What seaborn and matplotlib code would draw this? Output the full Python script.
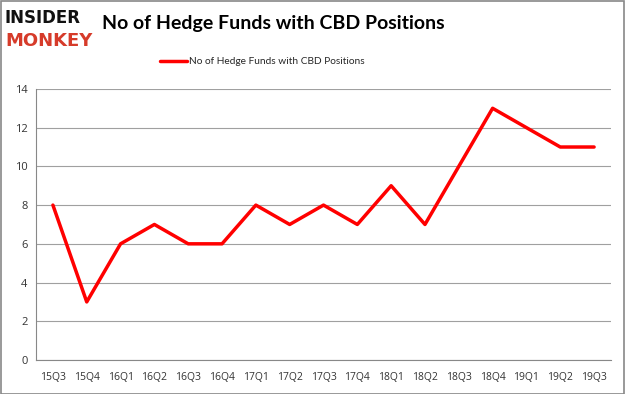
import matplotlib
matplotlib.use("Agg")
import matplotlib.pyplot as plt
import seaborn as sns
import pandas as pd

quarters = ["15Q3", "15Q4", "16Q1", "16Q2", "16Q3", "16Q4", "17Q1", "17Q2", "17Q3",
            "17Q4", "18Q1", "18Q2", "18Q3", "18Q4", "19Q1", "19Q2", "19Q3"]
funds = [8, 3, 6, 7, 6, 6, 8, 7, 8, 7, 9, 7, 10, 13, 12, 11, 11]
series_name = "No of Hedge Funds with CBD Positions"
yticks = [0, 2, 4, 6, 8, 10, 12, 14]

sns.set_theme(style="white")
plt.rcParams['font.family'] = ['Open Sans', 'DejaVu Sans']

df = pd.DataFrame({"quarter": quarters, "funds": funds, "idx": range(len(quarters))})

fig = plt.figure(figsize=(6.25, 3.94), dpi=100)
ax = fig.add_axes([0.0576, 0.0863, 0.92, 0.688])

sns.lineplot(data=df, x="idx", y="funds", color="#ff0000", linewidth=2.5, ax=ax,
             label=series_name, legend=False)

ax.set_xlim(-0.5, len(quarters) - 0.5)
ax.set_ylim(0, 14)
ax.set_yticks(yticks)
ax.set_yticklabels([str(v) for v in yticks], fontsize=8, color="#333333")
ax.set_xticks(range(len(quarters)))
ax.set_xticklabels(quarters, fontsize=7.5, color="#333333")
ax.set_xticks([i - 0.5 for i in range(len(quarters) + 1)], minor=True)
ax.tick_params(axis="x", which="major", length=0, pad=9)
ax.tick_params(axis="x", which="minor", length=4, color="#888888", direction="out")
ax.tick_params(axis="y", length=0, pad=6)
ax.set_xlabel("")
ax.set_ylabel("")
ax.grid(axis="y", color="#a0a0a0", linewidth=0.8)
ax.set_axisbelow(True)
for s in ["top", "right"]:
    ax.spines[s].set_visible(False)
ax.spines["left"].set_color("#888888")
ax.spines["bottom"].set_color("#888888")
ax.spines["left"].set_linewidth(0.8)
ax.spines["bottom"].set_linewidth(0.8)

leg = fig.legend(*ax.get_legend_handles_labels(), loc="center", bbox_to_anchor=(0.42, 0.843),
                 frameon=False, handlelength=2.6, handletextpad=0.2,
                 prop={"family": ["Lato", "DejaVu Sans"], "size": 7.3})

fig.text(0.163, 0.94, "No of Hedge Funds with CBD Positions", fontsize=14, fontweight="bold",
         ha="left", va="center", color="black", family=["Lato", "DejaVu Sans"])
fig.text(0.008, 0.954, "INSIDER", fontsize=12, fontweight="black", color="#111111",
         ha="left", va="center", family=["DejaVu Sans"])
fig.text(0.008, 0.897, "MONKEY", fontsize=13, fontweight="black", color="#d63b2a",
         ha="left", va="center", family=["DejaVu Sans"])

fig.patches.append(plt.Rectangle((0.001, 0.001), 0.998, 0.997, transform=fig.transFigure,
                                 fill=False, edgecolor="#888888", linewidth=1.2))
fig.savefig("out.png", dpi=100)
